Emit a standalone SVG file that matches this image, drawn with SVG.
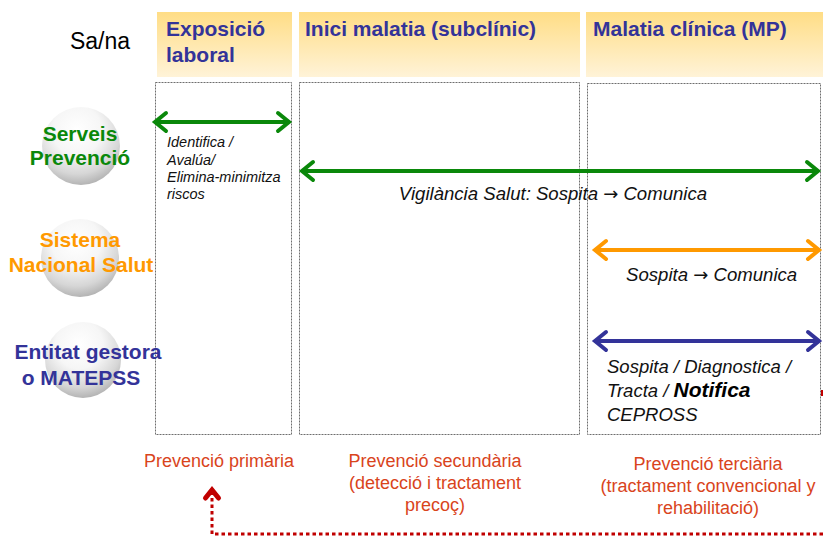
<svg xmlns="http://www.w3.org/2000/svg" width="823" height="536" viewBox="0 0 823 536">
<defs>
<linearGradient id="hdr" x1="0" y1="0" x2="0" y2="1">
<stop offset="0" stop-color="#FFDD85"/>
<stop offset="1" stop-color="#FFF3D8"/>
</linearGradient>
<radialGradient id="sphere" cx="0.45" cy="0.3" r="0.7">
<stop offset="0" stop-color="#FFFFFF"/>
<stop offset="0.45" stop-color="#F6F6F6"/>
<stop offset="0.8" stop-color="#D6D6D6"/>
<stop offset="1" stop-color="#B4B4B4"/>
</radialGradient>
<marker id="mg" markerUnits="userSpaceOnUse" viewBox="-16 -12 20 24" markerWidth="20" markerHeight="24" refX="0" refY="0" orient="auto-start-reverse" overflow="visible">
<path d="M-11,-9 L0,0 L-11,9" fill="none" stroke="#0A880A" stroke-width="4" stroke-linecap="round" stroke-linejoin="miter"/>
</marker>
<marker id="mo" markerUnits="userSpaceOnUse" viewBox="-16 -12 20 24" markerWidth="20" markerHeight="24" refX="0" refY="0" orient="auto-start-reverse" overflow="visible">
<path d="M-11,-9 L0,0 L-11,9" fill="none" stroke="#FF9900" stroke-width="4" stroke-linecap="round"/>
</marker>
<marker id="mb" markerUnits="userSpaceOnUse" viewBox="-16 -12 20 24" markerWidth="20" markerHeight="24" refX="0" refY="0" orient="auto-start-reverse" overflow="visible">
<path d="M-11,-9 L0,0 L-11,9" fill="none" stroke="#333399" stroke-width="4" stroke-linecap="round"/>
</marker>
<marker id="mr" markerUnits="userSpaceOnUse" viewBox="-12 -10 16 20" markerWidth="16" markerHeight="20" refX="0" refY="0" orient="auto" overflow="visible">
<path d="M-8,-6.5 L0,0 L-8,6.5" fill="none" stroke="#C00000" stroke-width="5" stroke-linejoin="miter" stroke-linecap="round"/>
</marker>
</defs>
<style>
text{font-family:"Liberation Sans",Arial,sans-serif}
.hdr{fill:url(#hdr)}
.hd{font-size:21px;font-weight:bold;fill:#333399}
.col{fill:none;stroke:#6E6E6E;stroke-width:1;stroke-dasharray:2 1}
.sph{fill:url(#sphere)}
.ag{font-size:21px;font-weight:bold;text-anchor:middle}
.it{font-style:italic;fill:#111}
.ar{font-family:"DejaVu Sans",sans-serif;font-style:normal;font-size:18px}
.red{font-size:18px;fill:#D9441C;text-anchor:middle}
.arr{fill:none;stroke-width:4}
</style>
<rect width="823" height="536" fill="#FFFFFF"/>

<text x="100" y="49" font-size="23" text-anchor="middle" fill="#000">Sa/na</text>

<g id="col-exposicio">
<rect class="hdr" x="157" y="12" width="135" height="65"/>
<text class="hd" x="166" y="36">Exposició</text>
<text class="hd" x="166" y="62">laboral</text>
<rect class="col" x="155.5" y="82.5" width="136" height="352"/>
<text class="it" font-size="14.5" x="167" y="147">Identifica /</text>
<text class="it" font-size="14.5" x="167" y="165">Avalúa/</text>
<text class="it" font-size="14.5" x="167" y="182">Elimina-minimitza</text>
<text class="it" font-size="14.5" x="167" y="199">riscos</text>
</g>

<g id="col-inici">
<rect class="hdr" x="299" y="12" width="281" height="65"/>
<text class="hd" x="305" y="36">Inici malatia (subclínic)</text>
<rect class="col" x="299.5" y="82.5" width="280" height="352"/>
</g>

<g id="col-clinica">
<rect class="hdr" x="586" y="12" width="237" height="65"/>
<text class="hd" x="593" y="36">Malatia clínica (MP)</text>
<rect class="col" x="587.5" y="83.5" width="233" height="351"/>
</g>

<g id="serveis-prevencio">
<circle class="sph" cx="81" cy="146" r="39"/>
<text class="ag" fill="#0A880A" x="80" y="141">Serveis</text>
<text class="ag" fill="#0A880A" x="80" y="165">Prevenció</text>
</g>

<g id="sistema-nacional-salut">
<circle class="sph" cx="80" cy="258" r="39"/>
<text class="ag" fill="#FF9900" x="80" y="247">Sistema</text>
<text class="ag" fill="#FF9900" x="81" y="272">Nacional Salut</text>
</g>

<g id="entitat-gestora">
<circle class="sph" cx="83" cy="360" r="38"/>
<text class="ag" fill="#333399" x="88" y="359">Entitat gestora</text>
<text class="ag" fill="#333399" x="81" y="385">o MATEPSS</text>
</g>

<g id="connectors">
<line class="arr" stroke="#0A880A" x1="155" y1="122" x2="289" y2="122" marker-start="url(#mg)" marker-end="url(#mg)"/>
<line class="arr" stroke="#0A880A" x1="302" y1="171" x2="818" y2="171" marker-start="url(#mg)" marker-end="url(#mg)"/>
<line class="arr" stroke="#FF9900" x1="595" y1="250" x2="819" y2="250" marker-start="url(#mo)" marker-end="url(#mo)"/>
<line class="arr" stroke="#333399" x1="595" y1="341" x2="819" y2="341" marker-start="url(#mb)" marker-end="url(#mb)"/>
<path d="M823,534 L212,534 L212,490" fill="none" stroke="#C00000" stroke-width="3" stroke-dasharray="3.5 3" marker-end="url(#mr)"/>
<rect x="821" y="390" width="2" height="6" fill="#C00000"/>
</g>

<g id="labels">
<text class="it" font-size="18.6" x="553" y="200" text-anchor="middle">Vigilància Salut: Sospita <tspan class="ar">→</tspan> Comunica</text>
<text class="it" font-size="18.6" x="626" y="281">Sospita <tspan class="ar">→</tspan> Comunica</text>
<text class="it" font-size="18.5" x="607" y="373">Sospita / Diagnostica /</text>
<text class="it" font-size="18.5" x="607" y="397">Tracta / <tspan font-weight="bold" font-size="21" fill="#000">Notifica</tspan></text>
<text class="it" font-size="18.5" x="607" y="421">CEPROSS</text>
</g>

<g id="prevention">
<text class="red" x="219" y="467">Prevenció primària</text>
<text class="red" x="435" y="467">Prevenció secundària</text>
<text class="red" x="435" y="489">(detecció i tractament</text>
<text class="red" x="435" y="511">precoç)</text>
<text class="red" x="708" y="470">Prevenció terciària</text>
<text class="red" x="708" y="492">(tractament convencional y</text>
<text class="red" x="708" y="514">rehabilitació)</text>
</g>
</svg>
